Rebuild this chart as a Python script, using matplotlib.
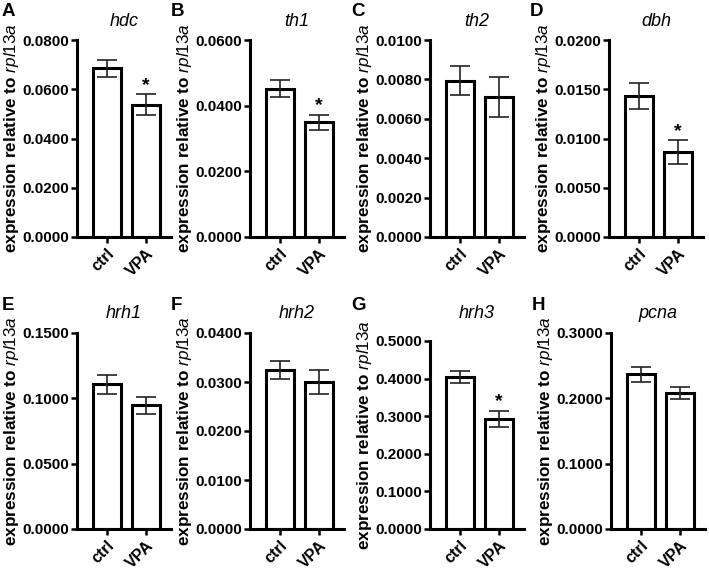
import matplotlib
matplotlib.use("Agg")
import matplotlib.pyplot as plt
import numpy as np
from matplotlib.ticker import FormatStrFormatter

plt.rcParams["font.family"] = ["Liberation Sans", "DejaVu Sans"]
plt.rcParams["mathtext.fontset"] = "custom"
plt.rcParams["mathtext.it"] = "Liberation Sans:italic"
plt.rcParams["mathtext.rm"] = "Liberation Sans"

# qPCR expression relative to rpl13a, mean +/- SEM
letters = ["A", "B", "C", "D", "E", "F", "G", "H"]
genes = ["hdc", "th1", "th2", "dbh", "hrh1", "hrh2", "hrh3", "pcna"]
groups = ["ctrl", "VPA"]
ctrl_mean = [0.0685, 0.0452, 0.00793, 0.01431, 0.1106, 0.0324, 0.405, 0.2365]
ctrl_sem = [0.0035, 0.0027, 0.00074, 0.00135, 0.0071, 0.0018, 0.016, 0.0115]
vpa_mean = [0.0537, 0.0349, 0.00711, 0.00863, 0.0946, 0.0300, 0.293, 0.2084]
vpa_sem = [0.0043, 0.0024, 0.00103, 0.0012, 0.0067, 0.0024, 0.021, 0.0094]
significant = [True, True, False, True, False, False, True, False]
ymax = [0.08, 0.06, 0.01, 0.02, 0.15, 0.04, 0.5, 0.3]
ystep = [0.02, 0.02, 0.002, 0.005, 0.05, 0.01, 0.1, 0.1]

W, H = 709, 586
fig = plt.figure(figsize=(W / 100, H / 100), dpi=100)

# axes boxes in pixels: left, top, bottom
lefts = [77, 250, 430, 609, 77, 250, 430, 611]
tops = [40, 40, 40, 40, 333, 333, 341, 333]
bottoms = [237, 237, 237, 237, 529, 529, 529, 529]
ax_w = 94
letter_y = [12, 305]   # per row, pixels from top
title_y = [21, 313]

for i in range(8):
    l, t, b = lefts[i], tops[i], bottoms[i]
    row = i // 4
    ax = fig.add_axes([l / W, 1 - b / H, ax_w / W, (b - t) / H])
    x = np.arange(2)
    means = [ctrl_mean[i], vpa_mean[i]]
    sems = [ctrl_sem[i], vpa_sem[i]]
    ax.bar(x, means, width=0.7, color="white", edgecolor="black", linewidth=2.2, zorder=2)
    ax.errorbar(x, means, yerr=sems, fmt="none", ecolor="#222222", elinewidth=1.2,
                capsize=7, capthick=1.2, zorder=3)
    if significant[i]:
        ax.text(1, vpa_mean[i] + vpa_sem[i] + ymax[i] * 0.003, "*", ha="center", va="bottom",
                fontsize=14, fontweight="bold")

    ax.set_xlim(-0.77, 1.64)
    ax.set_ylim(0, ymax[i])
    ax.set_yticks(np.arange(0, ymax[i] + ystep[i] / 2, ystep[i]))
    ax.yaxis.set_major_formatter(FormatStrFormatter("%.4f"))
    ax.set_xticks(x)
    ax.set_xticklabels(groups, rotation=45, ha="right", rotation_mode="anchor",
                       fontsize=11.5, fontweight="bold")
    for lab in ax.get_yticklabels():
        lab.set_fontweight("bold")
        lab.set_fontsize(11)
    ax.tick_params(axis="both", direction="out", length=4.5, width=1.8, pad=1)
    ax.tick_params(axis="x", pad=2)
    for s in ["top", "right"]:
        ax.spines[s].set_visible(False)
    for s in ["left", "bottom"]:
        ax.spines[s].set_linewidth(2.2)
    ax.set_ylabel("expression relative to $\\mathit{rpl13a}$", fontsize=12.3,
                  fontweight="bold", labelpad=1.5)

    cx = l + ax_w / 2
    fig.text(cx / W, 1 - title_y[row] / H, genes[i], fontstyle="italic", fontsize=13,
             ha="center", va="center")
    lx = l - 75 if i % 4 == 0 else l - 79
    fig.text(lx / W, 1 - letter_y[row] / H, letters[i],
             fontsize=13.5, fontweight="bold", ha="left", va="center")

fig.savefig("out.png", dpi=100)
